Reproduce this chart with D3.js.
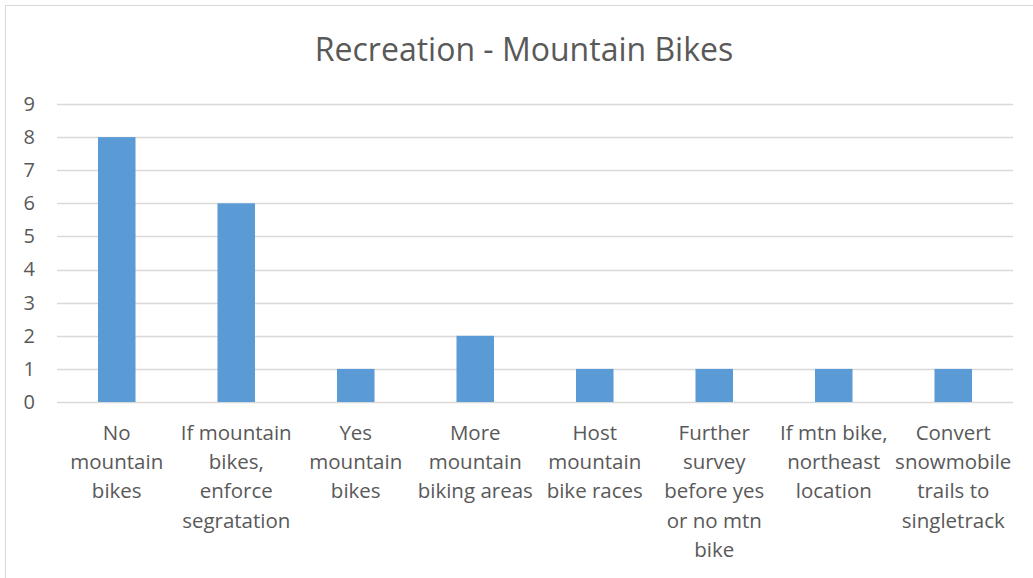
<!DOCTYPE html>
<html>
<head>
<meta charset="utf-8">
<script src="https://cdn.jsdelivr.net/npm/d3@7"></script>
<style>
  body { margin: 0; background: #fff; }
  text { font-family: "Open Sans", sans-serif; fill: #595959; }
</style>
</head>
<body>
<svg width="1033" height="578"></svg>
<script>
/* Recreation - Mountain Bikes */

var categories = [
    "No\nmountain\nbikes",
    "If mountain\nbikes,\nenforce\nsegratation",
    "Yes\nmountain\nbikes",
    "More\nmountain\nbiking areas",
    "Host\nmountain\nbike races",
    "Further\nsurvey\nbefore yes\nor no mtn\nbike",
    "If mtn bike,\nnortheast\nlocation",
    "Convert\nsnowmobile\ntrails to\nsingletrack"
];
var values = [8, 6, 1, 2, 1, 1, 1, 1];
var yTicks = [0, 1, 2, 3, 4, 5, 6, 7, 8, 9];

var svg = d3.select("svg"),
    width = +svg.attr("width"),
    height = +svg.attr("height");

var margin = { left: 57, right: 20, top: 104, bottom: 176 };

// chart border
svg.append("rect")
    .attr("x", 5.5).attr("y", 5.5)
    .attr("width", width + 10).attr("height", height + 10)
    .attr("fill", "#fff")
    .attr("stroke", "#d9d9d9");

svg.append("text")
    .attr("x", 524).attr("y", 61)
    .attr("text-anchor", "middle")
    .style("font-size", "32px")
    .text("Recreation - Mountain Bikes");

var x = d3.scaleBand()
    .domain(categories)
    .range([margin.left, 1013])
    .paddingInner(0.686)
    .paddingOuter(0.343);

var y = d3.scaleLinear()
    .domain([0, 9])
    .range([402, 104]);

// gridlines
svg.append("g")
    .selectAll("line")
    .data(yTicks)
    .enter().append("line")
    .attr("x1", margin.left).attr("x2", 1013)
    .attr("y1", function (d) { return Math.round(y(d)) + 0.5; })
    .attr("y2", function (d) { return Math.round(y(d)) + 0.5; })
    .attr("stroke", "#d9d9d9")
    .attr("stroke-width", 1.3);

// y axis labels
var yAxis = svg.append("g")
    .attr("transform", "translate(35,0)")
    .call(d3.axisLeft(y).tickValues(yTicks).tickSize(0).tickPadding(0));
yAxis.select(".domain").remove();
yAxis.selectAll("text")
    .style("font-size", "20px")
    .attr("fill", "#595959");

svg.append("g")
    .selectAll("rect")
    .data(values)
    .enter().append("rect")
    .attr("x", function (d, i) { return x(categories[i]); })
    .attr("y", function (d) { return y(d); })
    .attr("width", x.bandwidth())
    .attr("height", function (d) { return y(0) - y(d); })
    .attr("fill", "#5b9bd5");

// x labels, wrapped
var xLab = svg.append("g")
    .selectAll("text")
    .data(categories)
    .enter().append("text")
    .attr("text-anchor", "middle")
    .attr("transform", function (d) { return "translate(" + (x(d) + x.bandwidth() / 2) + ",440)"; })
    .style("font-size", "20.5px");

xLab.selectAll("tspan")
    .data(function (d) { return d.split("\n"); })
    .enter().append("tspan")
    .attr("x", 0)
    .attr("y", function (d, i) { return i * 29.2; })
    .text(function (d) { return d; });
</script>
</body>
</html>
